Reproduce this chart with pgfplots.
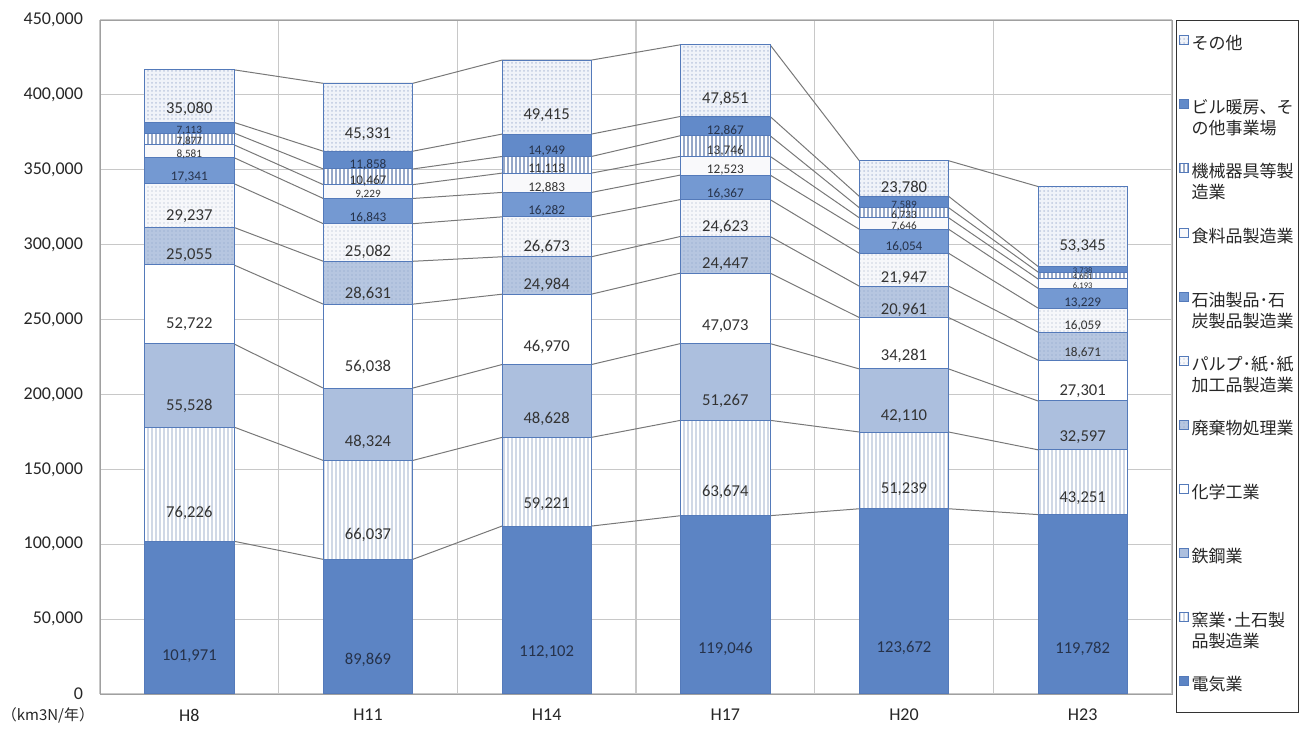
\documentclass[border=0pt]{standalone}
\usepackage{pgfplots}
\pgfplotsset{compat=1.18}
\usepackage{pgfplotstable}
\usepackage{fontspec}
\setmainfont{Carlito}
\newfontfamily\jp{Noto Sans CJK JP}
\usetikzlibrary{patterns.meta}

\definecolor{edgeblue}{RGB}{84,122,186}
\definecolor{elecblue}{RGB}{92,132,196}
\definecolor{steelblue}{RGB}{172,191,222}
\definecolor{wasteblue}{RGB}{182,198,224}
\definecolor{oilblue}{RGB}{116,153,210}
\definecolor{bldgblue}{RGB}{98,138,201}
\definecolor{gridgray}{RGB}{200,200,200}
\definecolor{linkgray}{RGB}{120,120,120}
\definecolor{numdark}{RGB}{38,50,74}

% emissions per survey year, industries from the bottom of the stack up
\pgfplotstableread{
x elec   cer   steel chem  waste pulp  oil   food  mach  bldg  other
0 101971 76226 55528 52722 25055 29237 17341 8581  7877  7113  35080
1 89869  66037 48324 56038 28631 25082 16843 9229  10467 11858 45331
2 112102 59221 48628 46970 24984 26673 16282 12883 11113 14949 49415
3 119046 63674 51267 47073 24447 24623 16367 12523 13746 12867 47851
4 123672 51239 42110 34281 20961 21947 16054 7646  6733  7589  23780
5 119782 43251 32597 27301 18671 16059 13229 6193  4651  3738  53345
}\bars

% same values at the bar edges, for the series lines between the bars
\pgfplotstableread{
x     elec   cer   steel chem  waste pulp  oil   food  mach  bldg  other
-0.25 101971 76226 55528 52722 25055 29237 17341 8581  7877  7113  35080
0.25  101971 76226 55528 52722 25055 29237 17341 8581  7877  7113  35080
0.75  89869  66037 48324 56038 28631 25082 16843 9229  10467 11858 45331
1.25  89869  66037 48324 56038 28631 25082 16843 9229  10467 11858 45331
1.75  112102 59221 48628 46970 24984 26673 16282 12883 11113 14949 49415
2.25  112102 59221 48628 46970 24984 26673 16282 12883 11113 14949 49415
2.75  119046 63674 51267 47073 24447 24623 16367 12523 13746 12867 47851
3.25  119046 63674 51267 47073 24447 24623 16367 12523 13746 12867 47851
3.75  123672 51239 42110 34281 20961 21947 16054 7646  6733  7589  23780
4.25  123672 51239 42110 34281 20961 21947 16054 7646  6733  7589  23780
4.75  119782 43251 32597 27301 18671 16059 13229 6193  4651  3738  53345
5.25  119782 43251 32597 27301 18671 16059 13229 6193  4651  3738  53345
}\links

% value label, smaller in the thin segments
\newcommand\barlabel{%
  \pgfkeys{/pgf/fpu=true,/pgf/fpu/output format=fixed}%
  \pgfmathparse{(\rawv<20000)+(\rawv<10000)+(\rawv<6500)}%
  \ifdim\pgfmathresult pt>2.5pt \fontsize{4.3}{5}\selectfont
  \else\ifdim\pgfmathresult pt>1.5pt \fontsize{5.6}{6}\selectfont
  \else\ifdim\pgfmathresult pt>0.5pt \fontsize{6.6}{7}\selectfont
  \else\fontsize{8.3}{9}\selectfont\fi\fi\fi
  \pgfkeys{/pgf/fpu=false}%
  \pgfmathprintnumber[fixed,precision=0,1000 sep={,},assume math mode=true]{\rawv}}

\newcommand\leg[1]{\parbox[t]{52pt}{\raggedright #1}}

\pgfplotsset{
  common/.style={
    scale only axis, width=536pt, height=337pt,
    xmin=-0.5, xmax=5.5, ymin=0, ymax=450000,
  },
  % bottom legend row: leaves some room under it
  deeplegend/.style={legend image code/.code={%
    \draw[##1] (0pt,-0.3pt) rectangle (4.5pt,4.2pt); \path (0pt,-6.5pt);}},
}

\begin{document}
\begin{tikzpicture}
\useasboundingbox (-50pt,-18.5pt) rectangle (602pt,347pt);

% grid, ticks and series lines
\begin{axis}[common,
  xtick={0,...,5}, xticklabels={H8,H11,H14,H17,H20,H23},
  minor xtick={-0.5,0.5,...,5.5}, xminorgrids, ymajorgrids,
  ytick={0,50000,...,450000}, scaled y ticks=false,
  major tick length=0pt, minor tick length=0pt,
  axis line style={gridgray!80!black},
  grid style={gridgray, line width=0.6pt},
  minor grid style={gridgray, line width=0.6pt},
  /pgf/number format/fixed,
  /pgf/number format/precision=0,
  /pgf/number format/1000 sep={,},
  /pgf/number format/assume math mode=true,
  ticklabel style={font=\fontsize{9}{10}\selectfont, text=black!85},
  yticklabel style={xshift=-5pt},
  xticklabel style={yshift=-4pt},
  stack plots=y,
]
\pgfplotsinvokeforeach{elec,cer,steel,chem,waste,pulp,oil,food,mach,bldg,other}{
  \addplot[linkgray, line width=0.5pt] table[x=x,y=#1]{\links};
}
\end{axis}
\node[font=\jp\fontsize{7.5}{9}\selectfont, text=black!85] at (-26pt,-10.5pt) {（km3N/年）};

% stacked bars with their values and the legend
\begin{axis}[common, hide axis,
  ybar stacked, bar width=0.5,
  every axis plot/.append style={draw=edgeblue, line width=0.5pt},
  visualization depends on={rawy \as \rawv},
  nodes near coords={\barlabel},
  every node near coord/.append style={anchor=center, text=black!80,
    shift={(axis direction cs:0,-\rawv/4)}},
  reverse legend, legend cell align=left,
  legend image code/.code={\draw[#1] (0pt,-0.3pt) rectangle (4.5pt,4.2pt);},
  legend style={at={(rel axis cs:1,1)}, anchor=north west, xshift=2pt,
    draw=black!80, line width=0.6pt, inner xsep=1pt, inner ysep=7pt,
    nodes={inner sep=0.5pt}, row sep=22.4pt, /tikz/column sep=1pt,
    font=\jp\fontsize{8.5}{10.5}\selectfont, text=black!85},
]
\addplot[fill=elecblue, every node near coord/.append style={text=numdark}, deeplegend]
  table[x=x,y=elec]{\bars};
\addlegendentry{\leg{電気業}}
\addplot[fill=white, postaction={pattern={Lines[angle=90,distance=2pt,line width=0.8pt]}, pattern color={rgb,255:red,208;green,216;blue,230}}]
  table[x=x,y=cer]{\bars};
\addlegendentry{\leg{窯業･土石製\\品製造業}}
\addplot[fill=steelblue]
  table[x=x,y=steel]{\bars};
\addlegendentry{\leg{鉄鋼業}}
\addplot[fill=white]
  table[x=x,y=chem]{\bars};
\addlegendentry{\leg{化学工業}}
\addplot[fill=wasteblue, postaction={pattern={Dots[distance=2pt,radius=0.45pt]}, pattern color={rgb,255:red,160;green,180;blue,212}}]
  table[x=x,y=waste]{\bars};
\addlegendentry{\leg{廃棄物処理業}}
\addplot[fill={rgb,255:red,246;green,247;blue,250}, postaction={pattern={Dots[distance=2pt,radius=0.45pt]}, pattern color={rgb,255:red,205;green,212;blue,224}}]
  table[x=x,y=pulp]{\bars};
\addlegendentry{\leg{パルプ･紙･紙\\加工品製造業}}
\addplot[fill=oilblue, every node near coord/.append style={text=numdark}]
  table[x=x,y=oil]{\bars};
\addlegendentry{\leg{石油製品･石\\炭製品製造業}}
\addplot[fill={rgb,255:red,249;green,249;blue,251}]
  table[x=x,y=food]{\bars};
\addlegendentry{\leg{食料品製造業}}
\addplot[fill=white, postaction={pattern={Lines[angle=90,distance=2pt,line width=0.7pt]}, pattern color={rgb,255:red,150;green,168;blue,200}}]
  table[x=x,y=mach]{\bars};
\addlegendentry{\leg{機械器具等製\\造業}}
\addplot[fill=bldgblue, every node near coord/.append style={text=numdark}]
  table[x=x,y=bldg]{\bars};
\addlegendentry{\leg{ビル暖房、そ\\の他事業場}}
\addplot[fill={rgb,255:red,240;green,243;blue,249}, postaction={pattern={Dots[distance=2pt,radius=0.5pt]}, pattern color={rgb,255:red,190;green,202;blue,224}}]
  table[x=x,y=other]{\bars};
\addlegendentry{\leg{その他}}
\end{axis}
\end{tikzpicture}
\end{document}
